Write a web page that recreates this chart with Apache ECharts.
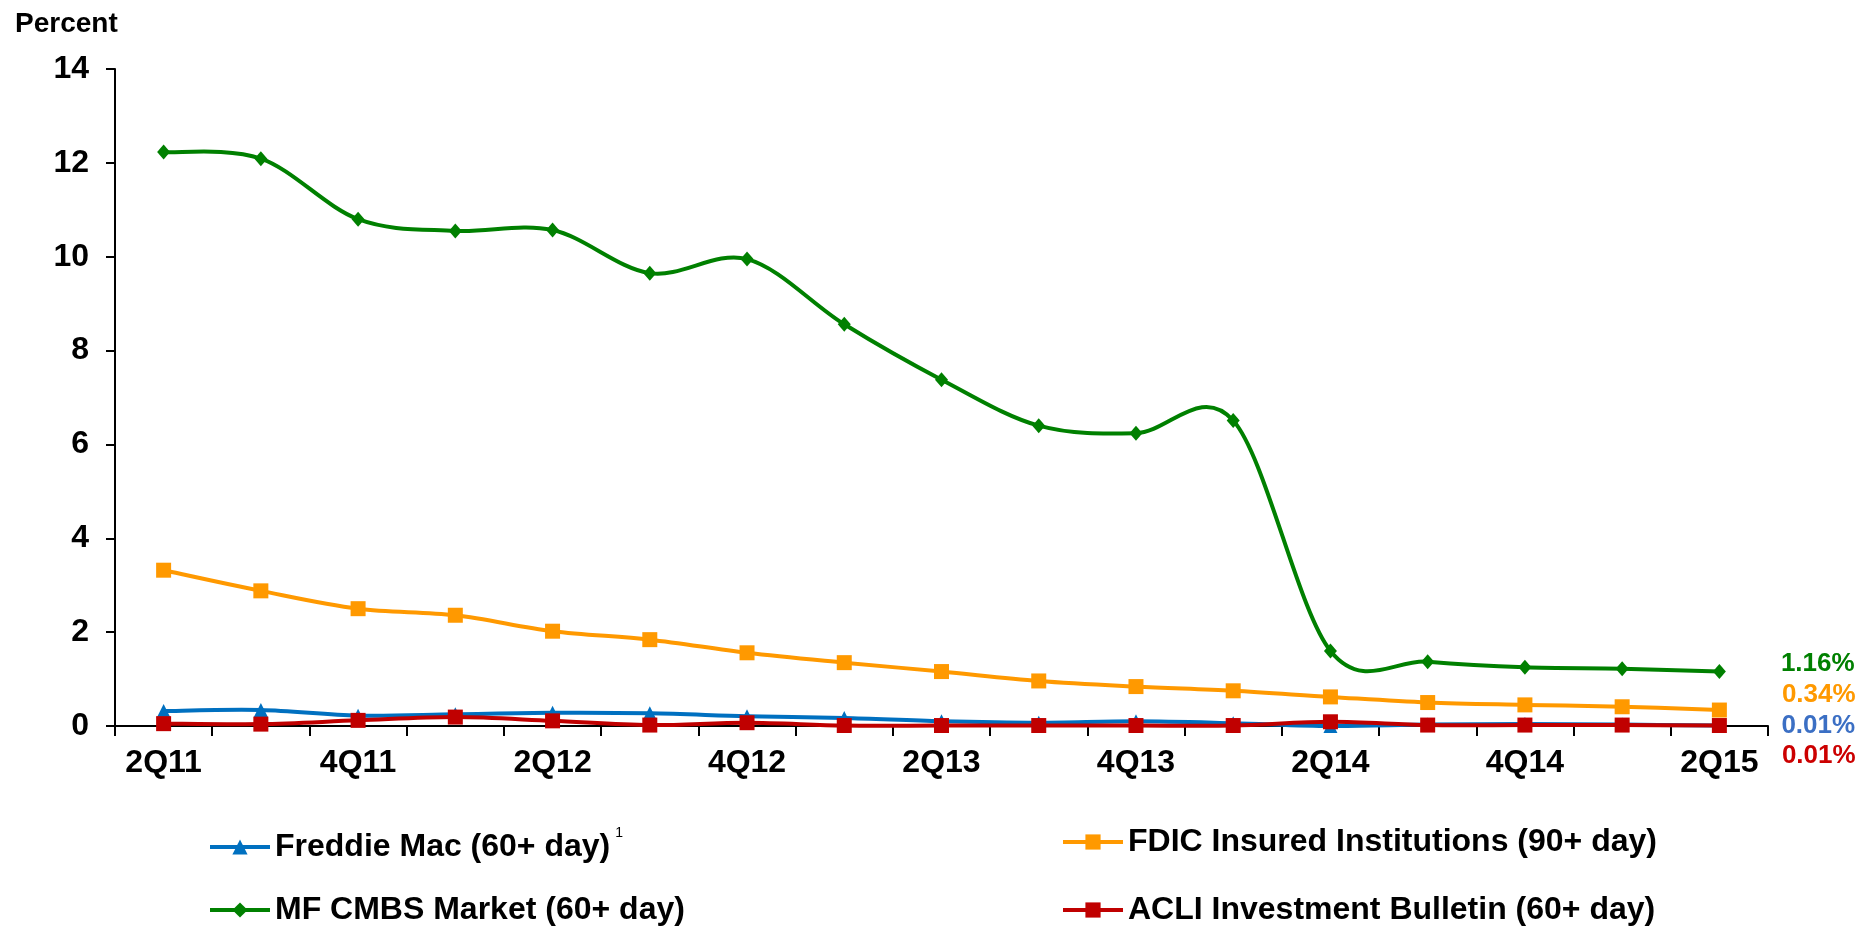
<!DOCTYPE html>
<html>
<head>
<meta charset="utf-8">
<title>Delinquency rates</title>
<script src="https://cdn.jsdelivr.net/npm/echarts@6/dist/echarts.min.js"></script>
<style>
  html, body { margin: 0; padding: 0; background: #fff; }
  #main { width: 1862px; height: 931px; }
</style>
</head>
<body>
<div id="main"></div>
<script>
var quarters = ['2Q11', '3Q11', '4Q11', '1Q12', '2Q12', '3Q12', '4Q12', '1Q13', '2Q13',
    '3Q13', '4Q13', '1Q14', '2Q14', '3Q14', '4Q14', '1Q15', '2Q15'];

var freddieMac = [0.32, 0.34, 0.22, 0.25, 0.28, 0.27, 0.21, 0.17, 0.10, 0.07, 0.10, 0.06, 0.00, 0.03, 0.04, 0.03, 0.01];
var fdic = [3.32, 2.88, 2.50, 2.36, 2.02, 1.84, 1.56, 1.35, 1.16, 0.96, 0.84, 0.75, 0.62, 0.50, 0.45, 0.41, 0.34];
var mfCmbs = [12.23, 12.09, 10.80, 10.55, 10.57, 9.65, 9.95, 8.56, 7.38, 6.40, 6.24, 6.51, 1.60, 1.37, 1.25, 1.22, 1.16];
var acli = [0.05, 0.04, 0.12, 0.19, 0.11, 0.02, 0.07, 0.01, 0.01, 0.01, 0.01, 0.01, 0.09, 0.02, 0.02, 0.02, 0.01];

var font = "'Liberation Sans', Arial, sans-serif";

var myChart = echarts.init(document.getElementById('main'));

// one legend box per entry so they sit in two fixed columns
function legendAt(name, color, left, top) {
    return {
        data: [name],
        left: left,
        top: top,
        itemWidth: 60,
        itemHeight: 19,
        itemGap: 3,
        selectedMode: false,
        lineStyle: { color: color, width: 4, opacity: 1 },
        formatter: function (n) {
            if (n === 'Freddie Mac (60+ day)') return '{t|' + n + '}{s|1}';
            return '{t|' + n + '}';
        },
        textStyle: {
            rich: {
                t: { fontSize: 32, fontWeight: 'bold', fontFamily: font, color: '#000' },
                s: { fontSize: 14, fontFamily: font, color: '#000', padding: [0, 0, 28, 5] }
            }
        }
    };
}

// percent label only on the last point
function lastLabel(text, color, dy) {
    return {
        show: true,
        position: 'right',
        distance: 55,
        offset: [0, dy],
        fontSize: 26,
        fontWeight: 'bold',
        fontFamily: font,
        color: color,
        formatter: function (p) {
            return p.dataIndex === quarters.length - 1 ? text : '';
        }
    };
}

// Excel-like smoothed curve (Catmull-Rom through the points), one bezier per segment
function curveSeries(values, color, z) {
    return {
        type: 'custom',
        name: '_curve',
        z: z,
        silent: true,
        data: values.map(function (v, i) { return [i, v]; }),
        encode: { x: 0, y: 1 },
        renderItem: function (params, api) {
            var i = params.dataIndex;
            var last = values.length - 1;
            if (i >= last) return null;
            var pt = function (k) {
                k = Math.max(0, Math.min(last, k));
                return api.coord([k, values[k]]);
            };
            var p0 = pt(i - 1), p1 = pt(i), p2 = pt(i + 1), p3 = pt(i + 2);
            return {
                type: 'bezierCurve',
                shape: {
                    x1: p1[0], y1: p1[1],
                    x2: p2[0], y2: p2[1],
                    cpx1: p1[0] + (p2[0] - p0[0]) / 6,
                    cpy1: p1[1] + (p2[1] - p0[1]) / 6,
                    cpx2: p2[0] - (p3[0] - p1[0]) / 6,
                    cpy2: p2[1] - (p3[1] - p1[1]) / 6
                },
                style: { stroke: color, lineWidth: 4, fill: null, lineCap: 'round' }
            };
        }
    };
}

function markerSeries(name, values, symbol, size, color, label, z) {
    return {
        name: name,
        type: 'line',
        data: values,
        symbol: symbol,
        symbolSize: size,
        color: color,
        itemStyle: { color: color },
        lineStyle: { width: 0, opacity: 0 },
        label: label,
        z: z
    };
}

var option = {
    animation: false,
    backgroundColor: '#fff',
    title: {
        text: 'Percent',
        left: 10,
        top: 5,
        textStyle: { fontSize: 28, fontWeight: 'bold', fontFamily: font, color: '#000' }
    },
    legend: [
        legendAt('Freddie Mac (60+ day)', '#0070C0', 203, 821),
        legendAt('FDIC Insured Institutions (90+ day)', '#FF9900', 1056, 821),
        legendAt('MF CMBS Market (60+ day)', '#008000', 203, 889),
        legendAt('ACLI Investment Bulletin (60+ day)', '#C00000', 1056, 889)
    ],
    grid: {
        left: 115,
        right: 94,
        top: 69,
        bottom: 205
    },
    xAxis: {
        type: 'category',
        data: quarters,
        boundaryGap: true,
        axisLine: { lineStyle: { color: '#000', width: 2 } },
        axisTick: { show: true, interval: 0, length: 10, lineStyle: { color: '#000', width: 2 } },
        axisLabel: {
            interval: 1,
            margin: 21,
            fontSize: 32,
            fontWeight: 'bold',
            fontFamily: font,
            color: '#000'
        },
        splitLine: { show: false }
    },
    yAxis: {
        type: 'value',
        min: 0,
        max: 14,
        interval: 2,
        axisLine: { show: true, lineStyle: { color: '#000', width: 2 } },
        axisTick: { show: true, length: 9, lineStyle: { color: '#000', width: 2 } },
        axisLabel: {
            margin: 26,
            fontSize: 32,
            fontWeight: 'bold',
            fontFamily: font,
            color: '#000'
        },
        splitLine: { show: false }
    },
    series: [
        curveSeries(freddieMac, '#0070C0', 1),
        curveSeries(fdic, '#FF9900', 2),
        curveSeries(mfCmbs, '#008000', 3),
        curveSeries(acli, '#C00000', 4),
        markerSeries('Freddie Mac (60+ day)', freddieMac, 'triangle', [14, 14], '#0070C0',
            lastLabel('0.01%', '#3B6FC4', 0), 11),
        markerSeries('FDIC Insured Institutions (90+ day)', fdic, 'rect', 15, '#FF9900',
            lastLabel('0.34%', '#FF9900', -15), 12),
        markerSeries('MF CMBS Market (60+ day)', mfCmbs, 'diamond', [13, 15], '#008000',
            lastLabel('1.16%', '#008000', -8), 13),
        markerSeries('ACLI Investment Bulletin (60+ day)', acli, 'rect', 15, '#C00000',
            lastLabel('0.01%', '#CC0000', 30), 14)
    ]
};

option && myChart.setOption(option);
</script>
</body>
</html>
